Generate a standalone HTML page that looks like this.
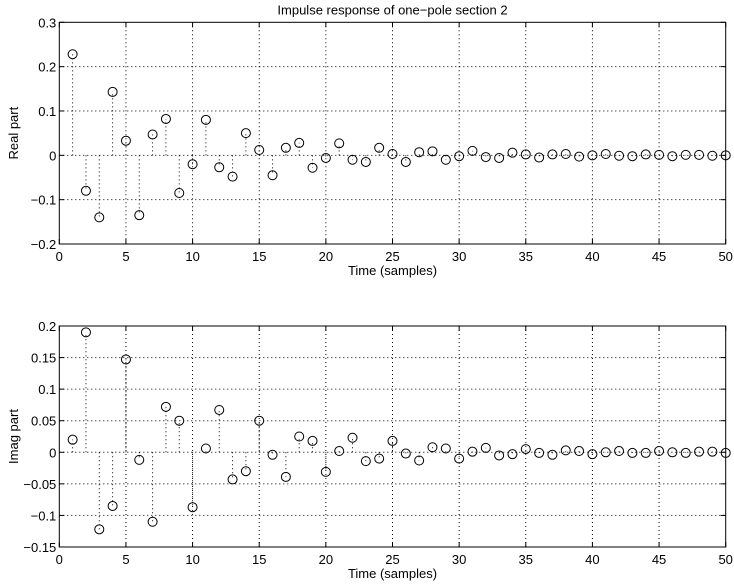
<!DOCTYPE html><html><head><style>body{margin:0;background:#fff}svg{display:block}text{font-family:"Liberation Sans",sans-serif;font-size:13px;fill:#000}</style></head><body>
<svg id="s" width="734" height="588" xmlns="http://www.w3.org/2000/svg"></svg>
<script>
var s=document.getElementById('s'),h='';
var re=[0.228,-0.08,-0.14,0.143,0.033,-0.135,0.047,0.082,-0.085,-0.02,0.08,-0.027,-0.048,0.05,0.012,-0.045,0.017,0.028,-0.028,-0.006,0.027,-0.01,-0.015,0.017,0.003,-0.015,0.007,0.009,-0.01,-0.002,0.01,-0.004,-0.006,0.006,0.002,-0.005,0.002,0.003,-0.003,0,0.003,-0.001,-0.002,0.002,0.001,-0.002,0.001,0.001,-0.001,0];
var im=[0.02,0.19,-0.122,-0.085,0.147,-0.012,-0.11,0.072,0.05,-0.087,0.006,0.067,-0.043,-0.03,0.05,-0.004,-0.039,0.025,0.018,-0.031,0.002,0.023,-0.014,-0.01,0.018,-0.002,-0.013,0.008,0.006,-0.01,0.001,0.007,-0.005,-0.003,0.005,-0.001,-0.004,0.003,0.002,-0.003,0,0.002,-0.001,-0.001,0.002,0,-0.001,0.001,0.001,-0.001];
var L=59.3,R=725.7;
function X(v){return L+(R-L)*v/50}
function plot(top,bot,ymax,ymin,ticks,labs,data,ylab,title){
 function Y(v){return top+(bot-top)*(ymax-v)/(ymax-ymin)}
 var d='stroke="#000" stroke-width="1" stroke-dasharray="1,3"';
 for(var i=1;i<10;i++){var x=X(i*5);h+='<line x1="'+x+'" y1="'+top+'" x2="'+x+'" y2="'+bot+'" '+d+'/>';}
 ticks.forEach(function(t,k){var y=Y(t);if(k>0&&k<ticks.length-1)h+='<line x1="'+L+'" y1="'+y+'" x2="'+R+'" y2="'+y+'" '+d+'/>';
  h+='<line x1="'+L+'" y1="'+y+'" x2="'+(L+5)+'" y2="'+y+'" stroke="#000"/><line x1="'+R+'" y1="'+y+'" x2="'+(R-5)+'" y2="'+y+'" stroke="#000"/>';
  h+='<text x="'+(L-3)+'" y="'+(y+5)+'" text-anchor="end">'+labs[k]+'</text>';});
 for(var i=0;i<=10;i++){var x=X(i*5);h+='<line x1="'+x+'" y1="'+bot+'" x2="'+x+'" y2="'+(bot-5)+'" stroke="#000"/><line x1="'+x+'" y1="'+top+'" x2="'+x+'" y2="'+(top+5)+'" stroke="#000"/><text x="'+x+'" y="'+(bot+17)+'" text-anchor="middle">'+(i*5)+'</text>';}
 var y0=Y(0);
 data.forEach(function(v,i){var x=X(i+1),y=Y(v);h+='<line x1="'+x+'" y1="'+y0+'" x2="'+x+'" y2="'+y+'" '+d+'/><circle cx="'+x+'" cy="'+y+'" r="4.5" fill="none" stroke="#000"/>';});
 h+='<rect x="'+L+'" y="'+top+'" width="'+(R-L)+'" height="'+(bot-top)+'" fill="none" stroke="#000"/>';
 h+='<text x="'+((L+R)/2)+'" y="'+(bot+31)+'" text-anchor="middle">Time (samples)</text>';
 h+='<text transform="translate(18,'+((top+bot)/2)+') rotate(-90)" text-anchor="middle">'+ylab+'</text>';
 if(title)h+='<text x="'+((L+R)/2)+'" y="'+(top-8)+'" text-anchor="middle">'+title+'</text>';
}
plot(22.3,244,0.3,-0.2,[0.3,0.2,0.1,0,-0.1,-0.2],['0.3','0.2','0.1','0','\u22120.1','\u22120.2'],re,'Real part','Impulse response of one\u2212pole section 2');
plot(326,547,0.2,-0.15,[0.2,0.15,0.1,0.05,0,-0.05,-0.1,-0.15],['0.2','0.15','0.1','0.05','0','\u22120.05','\u22120.1','\u22120.15'],im,'Imag part','');
s.innerHTML=h;
</script></body></html>
